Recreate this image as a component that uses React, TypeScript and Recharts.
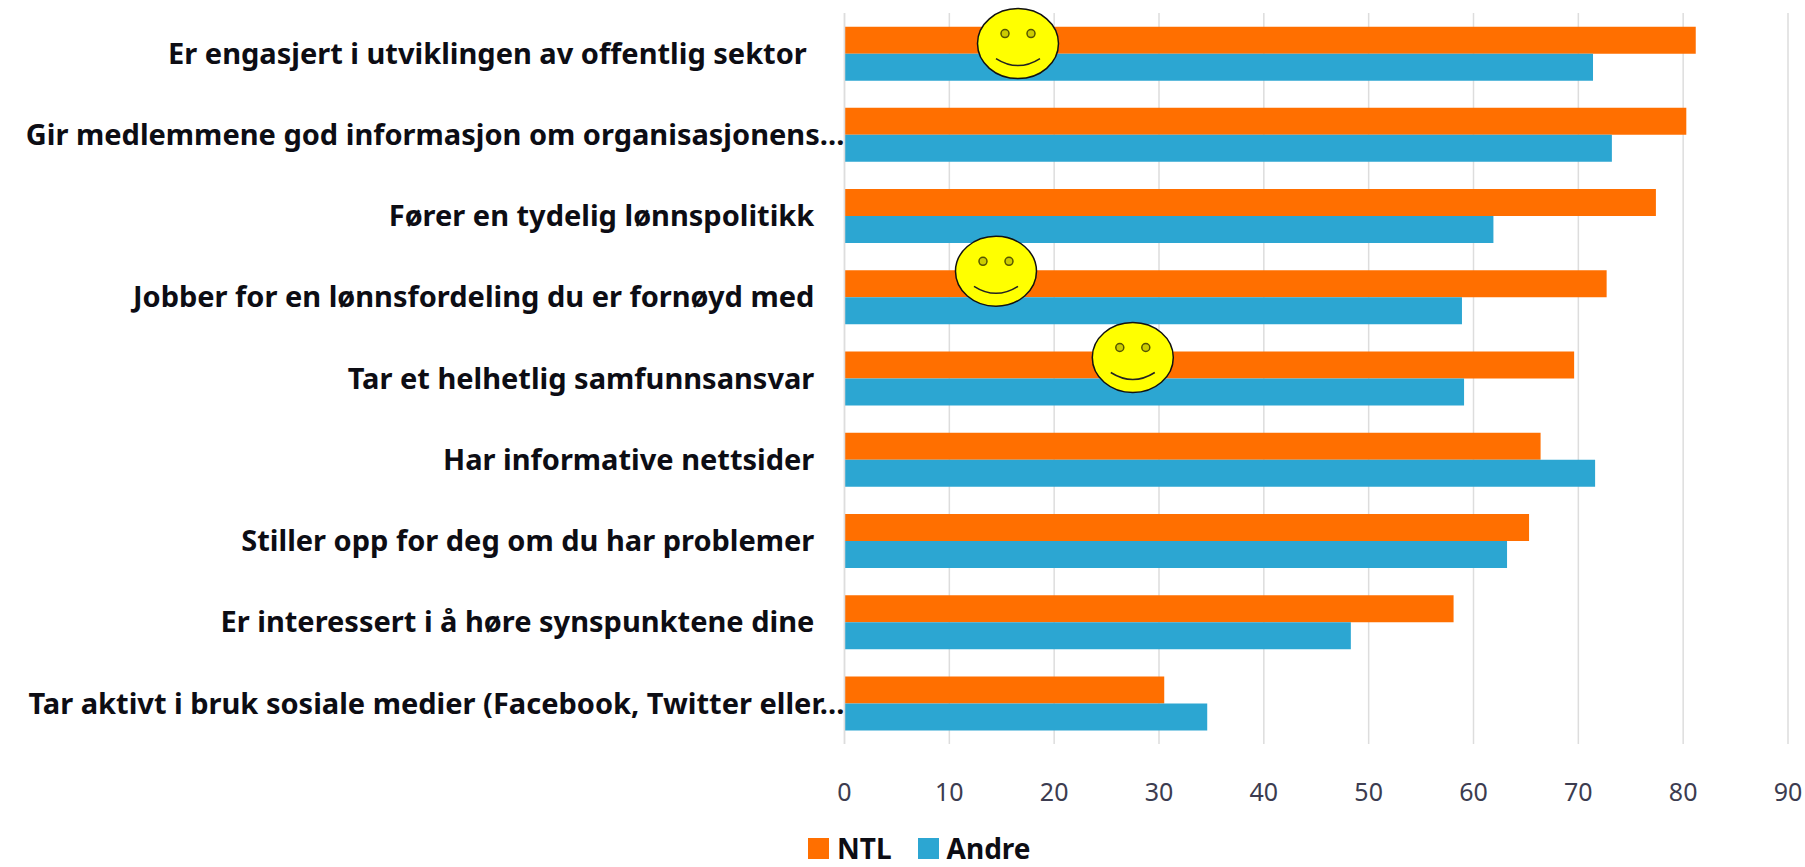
import { BarChart, Bar, XAxis, YAxis, CartesianGrid, Legend, ReferenceDot } from 'recharts'

// trailing nbsp is how the source pushes the untruncated labels off the axis
const categories = [
  'Er engasjert i utviklingen av offentlig sektor\u00a0\u00a0\u00a0\u00a0\u00a0',
  'Gir medlemmene god informasjon om organisasjonens…',
  'Fører en tydelig lønnspolitikk\u00a0\u00a0\u00a0\u00a0',
  'Jobber for en lønnsfordeling du er fornøyd med\u00a0\u00a0\u00a0\u00a0',
  'Tar et helhetlig samfunnsansvar\u00a0\u00a0\u00a0\u00a0',
  'Har informative nettsider\u00a0\u00a0\u00a0\u00a0',
  'Stiller opp for deg om du har problemer\u00a0\u00a0\u00a0\u00a0',
  'Er interessert i å høre synspunktene dine\u00a0\u00a0\u00a0\u00a0',
  'Tar aktivt i bruk sosiale medier (Facebook, Twitter eller…',
]
const ntl = [81.2, 80.3, 77.4, 72.7, 69.6, 66.4, 65.3, 58.1, 30.5]
const andre = [71.4, 73.2, 61.9, 58.9, 59.1, 71.6, 63.2, 48.3, 34.6]
const xTicks = [0, 10, 20, 30, 40, 50, 60, 70, 80, 90]

// smileys sit on top of the chart, pasted in by hand in the original
const smileyRows = [0, 3, 4]
const smileyValues = [16.55, 14.45, 27.5]
const smileyLift = [10, 26, 21]

const data = categories.map((name, i) => ({ name, NTL: ntl[i], Andre: andre[i] }))

const ORANGE = '#ff6f00'
const BLUE = '#2ca6d2'
const FONT = '"Noto Sans", sans-serif'

function CategoryTick(props: any) {
  const { x, y, payload } = props
  return (
    <text
      x={x + 8}
      y={y}
      dy="0.35em"
      textAnchor="end"
      fontFamily={FONT}
      fontWeight={700}
      fontSize={29}
      fill="#0d0d14"
      style={{ whiteSpace: 'pre' }}
    >
      {payload.value}
    </text>
  )
}

function Smiley(props: any) {
  const { cx, cy, lift } = props
  const y = cy - lift
  return (
    <g>
      <ellipse cx={cx} cy={y} rx={40.5} ry={35} fill="#ffff00" stroke="#111" strokeWidth={1.5} />
      <ellipse cx={cx - 13} cy={y - 10} rx={4} ry={4} fill="#cccc00" stroke="#555500" strokeWidth={1.5} />
      <ellipse cx={cx + 13} cy={y - 10} rx={4} ry={4} fill="#cccc00" stroke="#555500" strokeWidth={1.5} />
      <path
        d={`M ${cx - 22} ${y + 15} Q ${cx} ${y + 29} ${cx + 22} ${y + 15}`}
        fill="none"
        stroke="#222"
        strokeWidth={1.5}
      />
    </g>
  )
}

function LegendRow() {
  const item = (label: string, color: string, gap: number) => (
    <span style={{ display: 'inline-flex', alignItems: 'center', marginRight: gap }}>
      <span style={{ width: 21, height: 21, background: color, marginRight: 8 }} />
      <span style={{ fontFamily: FONT, fontWeight: 700, fontSize: 28, color: '#0d0d14' }}>{label}</span>
    </span>
  )
  return (
    <div style={{ display: 'flex', lineHeight: '24px', height: 24 }}>
      {item('NTL', ORANGE, 26)}
      {item('Andre', BLUE, 0)}
    </div>
  )
}

export default function App() {
  return (
    <div style={{ position: 'fixed', left: 0, top: 0, width: 1805, height: 867, background: '#fff' }}>
      <BarChart
        width={1805}
        height={867}
        data={data}
        layout="vertical"
        barGap={0}
        barCategoryGap="16.8%"
        margin={{ top: 13, right: 17, bottom: 69, left: 0 }}
      >
        <CartesianGrid horizontal={false} stroke="#dddddd" strokeWidth={1.5} />
        <XAxis
          type="number"
          domain={[0, 90]}
          ticks={xTicks}
          axisLine={false}
          tickLine={false}
          interval={0}
          tickMargin={33}
          tick={{ fontFamily: FONT, fontSize: 25, fill: '#3c3c50' }}
        />
        <YAxis
          type="category"
          dataKey="name"
          width={844.5}
          axisLine={{ stroke: '#dddddd', strokeWidth: 1.5 }}
          tickLine={false}
          interval={0}
          tick={<CategoryTick />}
        />
        <Bar dataKey="NTL" fill={ORANGE} isAnimationActive={false} />
        <Bar dataKey="Andre" fill={BLUE} isAnimationActive={false} />
        {smileyRows.map((row, i) => (
          <ReferenceDot
            key={row}
            x={smileyValues[i]}
            y={categories[row]}
            ifOverflow="visible"
            shape={(p: any) => <Smiley {...p} lift={smileyLift[i]} />}
          />
        ))}
        <Legend
          content={<LegendRow />}
          wrapperStyle={{ left: 808, top: 836, width: 300, bottom: 'auto' }}
        />
      </BarChart>
    </div>
  )
}
